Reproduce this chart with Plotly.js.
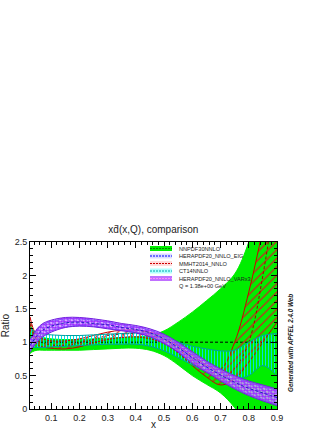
<!DOCTYPE html>
<html>
<head>
<meta charset="utf-8">
<script src="https://cdn.plot.ly/plotly-3.0.1.min.js"></script>
<style>
  html,body{margin:0;padding:0;background:#fff;}
  #plot{width:332px;height:430px;}
</style>
</head>
<body>
<div id="plot"></div>
<script>
// x grid shared by all bands
const xGrid = [0.025,0.035,0.05,0.07,0.1,0.15,0.2,0.25,0.3,0.35,0.4,0.45,0.5,0.55,0.6,0.65,0.7,0.75,0.8,0.85,0.9];

// NNPDF30NNLO
const nnpdfUp  = [1.28,1.18,1.10,1.07,1.05,1.04,1.04,1.05,1.06,1.07,1.08,1.10,1.17,1.30,1.45,1.62,1.80,2.02,2.50,3.30,4.20];
const nnpdfLow = [0.83,0.86,0.88,0.88,0.88,0.88,0.88,0.89,0.90,0.91,0.91,0.88,0.80,0.66,0.50,0.37,0.24,0.02,-0.30,-0.70,-1.00];

// HERAPDF20_NNLO_EIG
const heraEigUp  = [1.03,1.08,1.18,1.26,1.31,1.35,1.35,1.33,1.30,1.26,1.23,1.18,1.10,0.98,0.84,0.70,0.58,0.48,0.40,0.34,0.28];
const heraEigLow = [0.88,0.95,1.03,1.10,1.17,1.23,1.25,1.24,1.21,1.18,1.15,1.09,0.99,0.86,0.70,0.57,0.44,0.32,0.22,0.14,0.07];
const heraCen    = [0.95,1.01,1.10,1.18,1.24,1.29,1.30,1.28,1.26,1.22,1.19,1.14,1.05,0.92,0.77,0.63,0.51,0.40,0.31,0.24,0.17];

// MMHT2014_NNLO
const mmhtUp  = [1.38,1.22,1.10,1.05,1.02,1.02,1.05,1.10,1.15,1.18,1.18,1.15,1.08,0.95,0.80,0.66,0.60,1.00,1.75,2.70,3.80];
const mmhtLow = [1.20,1.08,0.97,0.93,0.91,0.90,0.93,0.99,1.04,1.07,1.08,1.05,0.98,0.84,0.65,0.48,0.36,0.45,0.70,1.00,1.30];
const mmhtCen = [1.29,1.15,1.03,0.99,0.96,0.95,0.99,1.04,1.10,1.12,1.13,1.10,1.03,0.90,0.72,0.56,0.46,0.60,1.00,2.00,3.40];

// CT14NNLO
const ct14Up  = [1.22,1.18,1.14,1.12,1.11,1.10,1.10,1.11,1.12,1.13,1.14,1.13,1.08,1.00,0.94,0.90,0.87,0.88,1.00,1.10,1.13];
const ct14Low = [0.95,0.93,0.92,0.92,0.93,0.94,0.95,0.96,0.97,0.97,0.97,0.94,0.87,0.77,0.66,0.56,0.48,0.45,0.50,0.65,0.50];

// HERAPDF20_NNLO_VAR
const heraVarUp  = [1.05,1.10,1.20,1.28,1.33,1.37,1.37,1.35,1.32,1.28,1.25,1.20,1.12,1.00,0.86,0.72,0.60,0.50,0.42,0.36,0.30];
const heraVarLow = [0.85,0.92,1.00,1.08,1.15,1.22,1.24,1.23,1.20,1.17,1.14,1.08,0.98,0.85,0.68,0.55,0.42,0.30,0.20,0.12,0.05];

const refX = [0.025, 0.9];
const refY = [1, 1];

const legendNames = ['NNPDF30NNLO','HERAPDF20_NNLO_EIG','MMHT2014_NNLO','CT14NNLO','HERAPDF20_NNLO_VARx3'];
const scaleNote = 'Q = 1.38e+00 GeV';

function band(up, low, lineColor, pattern, fillcolor){
  const lo = {x:xGrid, y:low, mode:'lines', line:{color:lineColor, width:1, shape:'spline'},
              hoverinfo:'skip', showlegend:false};
  const hi = {x:xGrid, y:up, mode:'lines', line:{color:lineColor, width:1, shape:'spline'},
              fill:'tonexty', hoverinfo:'skip', showlegend:false};
  if(pattern) hi.fillpattern = pattern;
  if(fillcolor) hi.fillcolor = fillcolor;
  return [lo, hi];
}
function centre(y, color){
  return {x:xGrid, y:y, mode:'lines', line:{color:color, width:1, dash:'3px,2px', shape:'spline'},
          hoverinfo:'skip', showlegend:false};
}

const traces = [
  ...band(nnpdfUp, nnpdfLow, '#00ee00', null, '#00ee00'),
  {x:refX, y:refY, mode:'lines', line:{color:'#000', width:1, dash:'3px,2px'}, hoverinfo:'skip', showlegend:false},
  ...band(heraEigUp, heraEigLow, '#1010ff', {shape:'\\', fgcolor:'#2020ff', bgcolor:'rgba(255,255,255,0.6)', size:4, solidity:0.35}),
  ...band(mmhtUp, mmhtLow, '#cc0000', {shape:'/', fgcolor:'#cc2222', bgcolor:'rgba(0,0,0,0)', size:6, solidity:0.2}),
  centre(mmhtCen, '#aa0000'),
  ...band(ct14Up, ct14Low, '#00a0a0', {shape:'|', fgcolor:'#00e0e0', bgcolor:'rgba(0,0,0,0)', size:3, solidity:0.35}),
  ...band(heraVarUp, heraVarLow, '#7020e0', {shape:'.', fgcolor:'#a030ff', bgcolor:'rgba(230,170,255,0.45)', size:3, solidity:0.55}),
  centre(heraCen, '#2020c0')
];

// pixel helpers for decorations (plot frame: x 30..277, y 242..409)
const L=30, R=277, T=242, B=409;
const px = v => (v - L)/(R - L);
const py = v => (B - v)/(B - T);

const swatchFill = ['#00ee00','#dcdcff','#ffdcdc','#b0ffff','#c070ff'];
const swatchLine = ['#008800','#0000ff','#cc0000','#00aaaa','#ff88ff'];
const rowsY = [248.5,256,263.5,271,278.5];

const shapes = [];
const annotations = [];
legendNames.forEach((name,i)=>{
  shapes.push({type:'rect', xref:'paper', yref:'paper', x0:px(150), x1:px(172), y0:py(rowsY[i]+2.5), y1:py(rowsY[i]-2.5),
               fillcolor:swatchFill[i], line:{width:0}});
  shapes.push({type:'line', xref:'paper', yref:'paper', x0:px(150), x1:px(172), y0:py(rowsY[i]), y1:py(rowsY[i]),
               line:{color:swatchLine[i], width:1, dash:'2px,1px'}});
  annotations.push({xref:'paper', yref:'paper', x:px(177), y:py(rowsY[i]), xanchor:'left', yanchor:'middle',
                    text:name, showarrow:false, font:{size:5.6, color:'#222', family:'Liberation Sans, Arial'}});
});
annotations.push({xref:'paper', yref:'paper', x:px(177), y:py(286), xanchor:'left', yanchor:'middle',
                  text:scaleNote, showarrow:false, font:{size:5.6, color:'#222', family:'Liberation Sans, Arial'}});
annotations.push({xref:'paper', yref:'paper', x:px(290), y:py(343), xanchor:'center', yanchor:'middle', textangle:-90,
                  text:'Generated with APFEL 2.4.0 Web', showarrow:false,
                  font:{size:6.3, color:'#222', family:'Liberation Sans, Arial', weight:'bold', style:'italic'}});

const axisFont = {size:9, color:'#222', family:'Liberation Sans, Arial'};

const layout = {
  width:332, height:430,
  margin:{l:L, r:332-R, t:T, b:430-B, pad:0},
  paper_bgcolor:'#fff', plot_bgcolor:'#fff',
  showlegend:false,
  font:{family:'Liberation Sans, Arial', color:'#222'},
  title:{text:'xd\u0304(x,Q), comparison', x:0.462, xanchor:'center', y:1-229/430, yanchor:'middle',
         font:{size:10, color:'#222', family:'Liberation Sans, Arial'}},
  xaxis:{range:[0.025,0.9], tick0:0, dtick:0.1, ticks:'inside', ticklen:6, tickcolor:'#000',
         showline:true, linecolor:'#000', linewidth:1, mirror:'ticks', showgrid:false, zeroline:false,
         tickfont:axisFont, minor:{dtick:0.02, ticks:'inside', ticklen:3, tickcolor:'#000'},
         title:{text:'x', font:{size:10, color:'#222'}, standoff:2}},
  yaxis:{range:[0,2.5], tick0:0, dtick:0.5, ticks:'inside', ticklen:6, tickcolor:'#000',
         showline:true, linecolor:'#000', linewidth:1, mirror:'ticks', showgrid:false, zeroline:false,
         tickfont:axisFont, minor:{dtick:0.1, ticks:'inside', ticklen:3, tickcolor:'#000'},
         title:{text:'Ratio', font:{size:10, color:'#222'}, standoff:4}},
  shapes:shapes,
  annotations:annotations
};

Plotly.newPlot('plot', traces, layout, {staticPlot:true, displayModeBar:false});
</script>
</body>
</html>
